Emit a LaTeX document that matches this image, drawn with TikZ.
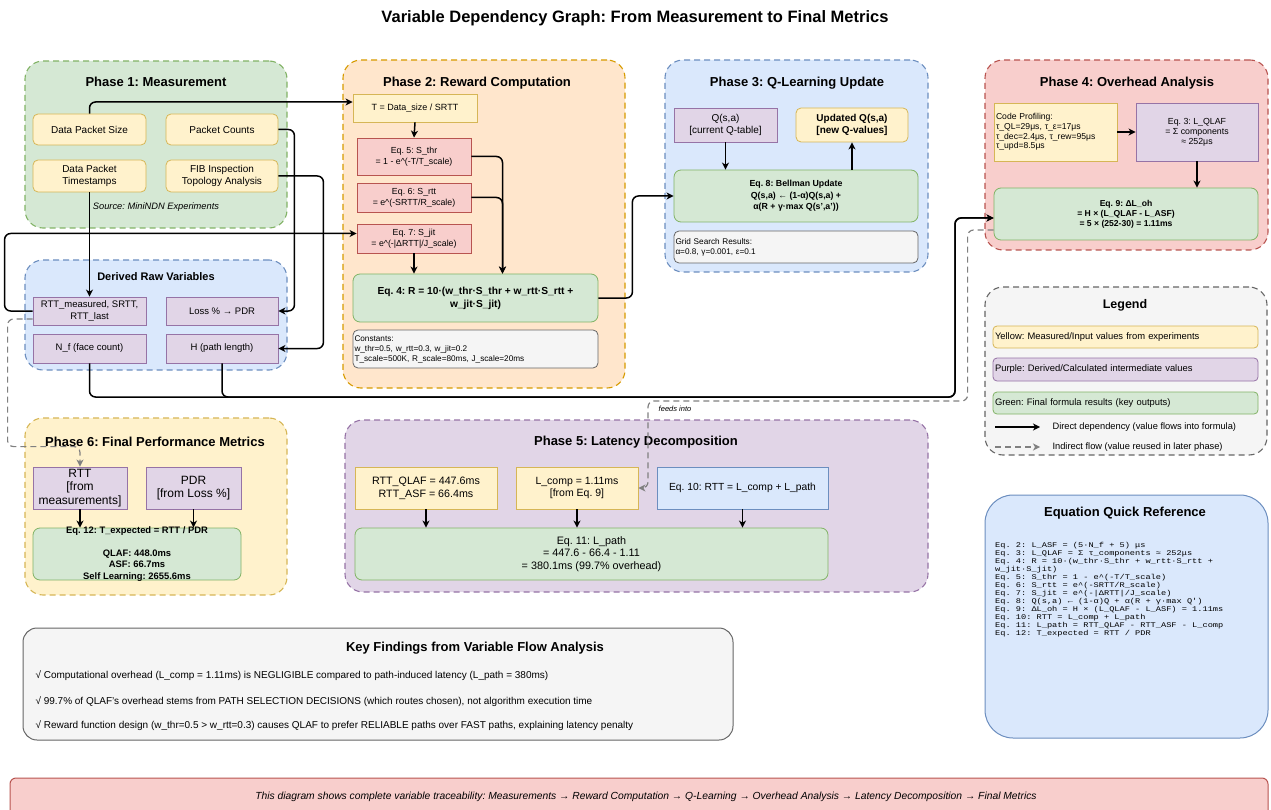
\documentclass[tikz,border=0pt]{standalone}
\usepackage{fontspec}
\setmainfont{Liberation Sans}
\newfontfamily\eqmono[FakeStretch=1.2]{Liberation Mono}
\usepackage{tikz}
\usetikzlibrary{arrows,arrows.meta,shapes,positioning}
\usepackage{xcolor}
\definecolor{lgreen}{RGB}{213,232,212}
\definecolor{dgreen}{RGB}{130,179,102}
\definecolor{lyellow}{RGB}{255,242,204}
\definecolor{dyellow}{RGB}{214,182,86}
\definecolor{lorange}{RGB}{255,230,204}
\definecolor{dorange}{RGB}{215,155,0}
\definecolor{lblue}{RGB}{218,232,252}
\definecolor{dblue}{RGB}{108,142,191}
\definecolor{lred}{RGB}{248,206,204}
\definecolor{dred}{RGB}{184,84,80}
\definecolor{lpurple}{RGB}{225,213,231}
\definecolor{dpurple}{RGB}{150,115,166}
\definecolor{lgrey}{RGB}{245,245,245}
\definecolor{dgrey}{RGB}{102,102,102}
\newcommand{\fsz}[2]{\fontsize{#1}{#2}\selectfont}
\frenchspacing
\tikzstyle{flow} = [line width=1.5pt,-{Stealth[length=7pt,width=7pt,inset=2pt]},rounded corners=6pt,color=black]
\tikzstyle{indirect} = [line width=1.2pt,dash pattern=on 6pt off 4pt,-{Stealth[length=7pt,width=7pt,inset=2pt]},rounded corners=6pt,color=gray]
\tikzstyle{phase} = [draw, dash pattern=on 6pt off 4pt, line width=1.1pt, rounded corners=18pt, inner sep=0pt]

\begin{document}
\begin{tikzpicture}[x=1pt, y=-1pt,
    ptitle/.style={font=\fsz{13}{15}\bfseries},
    meas/.style={draw=dyellow, fill=lyellow, line width=0.8pt, align=center, inner sep=1pt, font=\fsz{10}{12}},
    deriv/.style={draw=dpurple, fill=lpurple, line width=0.8pt, align=center, inner sep=1pt, font=\fsz{9.5}{11.5}},
    formula/.style={draw=dgreen, fill=lgreen, line width=0.8pt, rounded corners=7pt, align=center, inner sep=1pt},
    eqbox/.style={draw=dred, fill=lred, line width=0.8pt, align=center, inner sep=1pt, font=\fsz{8.8}{11}},
    note/.style={draw=dgrey, fill=lgrey, line width=0.8pt, rounded corners=5pt, align=left, inner sep=1.5pt}]
\useasboundingbox (0,0) rectangle (1271,810);

% Title
\node[font=\fsz{16.5}{19}\bfseries] (title) at (635,18) {Variable Dependency Graph: From Measurement to Final Metrics};

% Phase containers
\node[phase, draw=dgreen, fill=lgreen, minimum width=262, minimum height=167] (ph1) at (156,144.5) {};
\node[phase, draw=dblue, fill=lblue, minimum width=262, minimum height=110] (dv) at (156,315) {};
\node[phase, draw=dorange, fill=lorange, minimum width=282, minimum height=328] (ph2) at (484,224) {};
\node[phase, draw=dblue, fill=lblue, minimum width=263, minimum height=212] (ph3) at (796.5,166) {};
\node[phase, draw=dred, fill=lred, minimum width=283, minimum height=190] (ph4) at (1126.5,155) {};
\node[phase, draw=dgrey, fill=lgrey, minimum width=282, minimum height=168] (leg) at (1126,371) {};
\node[phase, draw=dyellow, fill=lyellow, minimum width=262, minimum height=177] (ph6) at (156,506.5) {};
\node[phase, draw=dpurple, fill=lpurple, minimum width=583, minimum height=172] (ph5) at (636.5,506) {};

% Phase 1
\node[ptitle] (t1) at (156,82) {Phase 1: Measurement};
\node[meas, rounded corners=5pt, minimum width=113, minimum height=31] (dps) at (89.5,129.5) {Data Packet Size};
\node[meas, rounded corners=5pt, minimum width=112, minimum height=31] (pc) at (222,129.5) {Packet Counts};
\node[meas, rounded corners=5pt, minimum width=113, minimum height=32] (dpt) at (89.5,176) {Data Packet\\Timestamps};
\node[meas, rounded corners=5pt, minimum width=112, minimum height=32] (fib) at (222,176) {FIB Inspection\\Topology Analysis};
\node[font=\fsz{9.3}{11}\itshape] (src) at (156,207) {Source: MiniNDN Experiments};

% Derived raw variables
\node[font=\fsz{11}{13}\bfseries] (tdv) at (156,277) {Derived Raw Variables};
\node[deriv, minimum width=113, minimum height=28] (rttm) at (89.5,311) {RTT\_measured, SRTT,\\RTT\_last};
\node[deriv, minimum width=112, minimum height=28] (loss) at (222,311) {Loss \% → PDR};
\node[deriv, minimum width=113, minimum height=29] (nf) at (89.5,348.5) {N\_f (face count)};
\node[deriv, minimum width=112, minimum height=29] (h) at (222,348.5) {H (path length)};

% Phase 2
\node[ptitle] (t2) at (477,83) {Phase 2: Reward Computation};
\node[meas, font=\fsz{9}{11}, minimum width=124, minimum height=28] (tbox) at (415,108) {T = Data\_size / SRTT};
\node[eqbox, minimum width=114, minimum height=37] (sthr) at (414,156.5) {Eq. 5: S\_thr\\= 1 - e\textasciicircum(-T/T\_scale)};
\node[eqbox, minimum width=114, minimum height=29] (srtt) at (414,197.5) {Eq. 6: S\_rtt\\= e\textasciicircum(-SRTT/R\_scale)};
\node[eqbox, minimum width=114, minimum height=29] (sjit) at (414,238.5) {Eq. 7: S\_jit\\= e\textasciicircum(-|ΔRTT|/J\_scale)};
\node[formula, font=\fsz{10.2}{13}\bfseries, minimum width=245, minimum height=48] (eq4) at (475.5,298) {Eq. 4: R = 10·(w\_thr·S\_thr + w\_rtt·S\_rtt +\\w\_jit·S\_jit)};
\node[note, font=\fsz{8.2}{10}, text width=242, minimum height=38] (const) at (475.5,349) {Constants:\\w\_thr=0.5, w\_rtt=0.3, w\_jit=0.2\\T\_scale=500K, R\_scale=80ms, J\_scale=20ms};

% Phase 3
\node[ptitle] (t3) at (797,83) {Phase 3: Q-Learning Update};
\node[deriv, font=\fsz{10}{12}, minimum width=103, minimum height=34] (q) at (725.5,125) {Q(s,a)\\{[}current Q-table{]}};
\node[meas, rounded corners=5pt, font=\fsz{10}{12}\bfseries, minimum width=112, minimum height=34] (updq) at (852,125) {Updated Q(s,a)\\{[}new Q-values{]}};
\node[formula, font=\fsz{8.8}{11.5}\bfseries, minimum width=244, minimum height=52] (eq8) at (796,196) {Eq. 8: Bellman Update\\Q(s,a) ← (1-α)Q(s,a) +\\α(R + γ·max Q(s',a'))};
\node[note, font=\fsz{8.2}{10}, text width=241, minimum height=32] (grid) at (796,247) {Grid Search Results:\\α=0.8, γ=0.001, ε=0.1};

% Phase 4
\node[ptitle] (t4) at (1127,83) {Phase 4: Overhead Analysis};
\node[meas, align=left, font=\fsz{8.6}{9.6}, text width=119, minimum height=58, inner sep=2pt] (prof) at (1055.5,132) {Code Profiling:\\τ\_QL=29μs, τ\_ε=17μs\\τ\_dec=2.4μs, τ\_rew=95μs\\τ\_upd=8.5μs};
\node[deriv, font=\fsz{8.8}{10}, minimum width=122, minimum height=58] (eq3) at (1197,132) {Eq. 3: L\_QLAF\\= Σ components\\≈ 252μs};
\node[formula, font=\fsz{8.6}{10.2}\bfseries, minimum width=264, minimum height=52] (eq9) at (1126,214) {Eq. 9: ΔL\_oh\\= H × (L\_QLAF - L\_ASF)\\= 5 × (252-30) = 1.11ms};

% Legend
\node[font=\fsz{12.5}{14}\bfseries] (tl) at (1125,305) {Legend};
\node[meas, rounded corners=4pt, align=left, font=\fsz{9.4}{11}, text width=261, minimum height=22, inner sep=2pt] (ly) at (1125.5,337) {Yellow: Measured/Input values from experiments};
\node[deriv, rounded corners=4pt, align=left, font=\fsz{9.4}{11}, text width=261, minimum height=23, inner sep=2pt] (lp) at (1125.5,369.5) {Purple: Derived/Calculated intermediate values};
\node[formula, rounded corners=4pt, align=left, font=\fsz{9.4}{11}, text width=261, minimum height=22, inner sep=2pt] (lg) at (1125.5,403) {Green: Final formula results (key outputs)};
\coordinate (la1s) at (995,427);
\coordinate (la1e) at (1040,427);
\coordinate (la2s) at (995,447);
\coordinate (la2e) at (1040,447);
\draw[flow] (la1s) -- (la1e);
\draw[indirect] (la2s) -- (la2e);
\node[anchor=west, font=\fsz{9.3}{11}] (ld1) at (1049,427) {Direct dependency (value flows into formula)};
\node[anchor=west, font=\fsz{9.3}{11}] (ld2) at (1049,447) {Indirect flow (value reused in later phase)};

% Equation quick reference
\node[draw=dblue, fill=lblue, line width=1pt, rounded corners=28pt, minimum width=283, minimum height=243] (eqr) at (1126.5,616.5) {};
\node[font=\fsz{13}{15}\bfseries] (teqr) at (1125,513) {Equation Quick Reference};
\node[anchor=north west, align=left, inner sep=0pt, font=\eqmono\fsz{7.2}{8}] (eqlist) at (995,542) {Eq. 2: L\_ASF = (5·N\_f + 5) μs\\
Eq. 3: L\_QLAF = Σ τ\_components ≈ 252μs\\
Eq. 4: R = 10·(w\_thr·S\_thr + w\_rtt·S\_rtt +\\
w\_jit·S\_jit)\\
Eq. 5: S\_thr = 1 - e\textasciicircum(-T/T\_scale)\\
Eq. 6: S\_rtt = e\textasciicircum(-SRTT/R\_scale)\\
Eq. 7: S\_jit = e\textasciicircum(-|ΔRTT|/J\_scale)\\
Eq. 8: Q(s,a) ← (1-α)Q + α(R + γ·max Q')\\
Eq. 9: ΔL\_oh = H × (L\_QLAF - L\_ASF) = 1.11ms\\
Eq. 10: RTT = L\_comp + L\_path\\
Eq. 11: L\_path = RTT\_QLAF - RTT\_ASF - L\_comp\\
Eq. 12: T\_expected = RTT / PDR};

% Phase 6
\node[ptitle] (t6) at (155,442) {Phase 6: Final Performance Metrics};
\node[deriv, font=\fsz{12}{13.3}, minimum width=94, minimum height=42] (rtt) at (80,488) {RTT\\{[}from\\measurements{]}};
\node[deriv, font=\fsz{12}{13.3}, minimum width=95, minimum height=42] (pdr) at (193.5,488) {PDR\\{[}from Loss \%{]}};
\node[formula, minimum width=208, minimum height=52] (eq12) at (137,554) {};
\node[align=center, inner sep=0pt, font=\fsz{9.4}{11.3}\bfseries] (eq12txt) at (137,554) {Eq. 12: T\_expected = RTT / PDR\\\mbox{}\\QLAF: 448.0ms\\ASF: 66.7ms\\Self Learning: 2655.6ms};

% Phase 5
\node[ptitle] (t5) at (636,442) {Phase 5: Latency Decomposition};
\node[meas, font=\fsz{10.7}{12.7}, minimum width=142, minimum height=42] (rttq) at (426,488) {RTT\_QLAF = 447.6ms\\RTT\_ASF = 66.4ms};
\node[meas, font=\fsz{10.5}{12.7}, minimum width=122, minimum height=42] (lcomp) at (577,488) {L\_comp = 1.11ms\\{[}from Eq. 9{]}};
\node[meas, draw=dblue, fill=lblue, font=\fsz{10.3}{12.7}, minimum width=171, minimum height=42] (eq10) at (742.5,488) {Eq. 10: RTT = L\_comp + L\_path};
\node[formula, font=\fsz{10.8}{12.5}, minimum width=473, minimum height=52] (eq11) at (591.5,554) {Eq. 11: L\_path\\= 447.6 - 66.4 - 1.11\\= 380.1ms (99.7\% overhead)};

% Key findings
\node[draw=dgrey, fill=lgrey, line width=1pt, rounded corners=14pt, minimum width=710, minimum height=112] (kf) at (378,684) {};
\node[font=\fsz{13}{15}\bfseries] (tkf) at (475,648) {Key Findings from Variable Flow Analysis};
\node[anchor=west, font=\fsz{10}{12}] (kf1) at (32,676) {√ Computational overhead (L\_comp = 1.11ms) is NEGLIGIBLE compared to path-induced latency (L\_path = 380ms)};
\node[anchor=west, font=\fsz{10}{12}] (kf2) at (32,702) {√ 99.7\% of QLAF's overhead stems from PATH SELECTION DECISIONS (which routes chosen), not algorithm execution time};
\node[anchor=west, font=\fsz{10}{12}] (kf3) at (32,726) {√ Reward function design (w\_thr=0.5 > w\_rtt=0.3) causes QLAF to prefer RELIABLE paths over FAST paths, explaining latency penalty};

% Footer
\node[draw=dred, fill=lred, line width=1pt, rounded corners=6pt, minimum width=1258, minimum height=42] (ft) at (639,799) {};
\node[font=\fsz{10.3}{12}\itshape] (fttxt) at (646,797) {This diagram shows complete variable traceability: Measurements → Reward Computation → Q-Learning → Overhead Analysis → Latency Decomposition → Final Metrics};

% Connections: measurement to derived
\coordinate (hbus) at (955,397);
\draw[flow] (dps.north) |- ([yshift=6pt]tbox.west);
\draw[flow] (pc.east) -- ++(16,0) |- (loss.east);
\draw[flow] (fib.east) -- ++(45,0) |- (h.east);
\draw[flow] (dpt.south) -- (rttm.north);
\draw[flow] (rttm.west) -- ++(-28,0) |- ([yshift=5pt]sjit.west);
\draw[flow] (nf.south) |- (hbus) |- ([yshift=-4pt]eq9.west);
\draw[flow] (h.south) |- (hbus) |- ([yshift=-4pt]eq9.west);

% Connections: reward computation
\draw[flow] (tbox.south) -- (sthr.north);
\draw[flow] (sthr.east) -| ([xshift=27pt]eq4.north);
\draw[flow] (srtt.east) -| ([xshift=27pt]eq4.north);
\draw[flow] (sjit.south) -- (sjit.south |- eq4.north);
\draw[flow] (eq4.east) -- ++(34,0) |- (eq8.west);

% Connections: Q-learning and overhead
\draw[flow] (q.south) -- (q.south |- eq8.north);
\draw[flow] (updq.south |- eq8.north) -- (updq.south);
\draw[flow] (prof.east) -- (eq3.west);
\draw[flow] (eq3.south) -- (eq3.south |- eq9.north);

% Connections: final phases
\draw[flow] (rtt.south) -- (rtt.south |- eq12.north);
\draw[flow] (pdr.south) -- (pdr.south |- eq12.north);
\draw[flow] (rttq.south) -- (rttq.south |- eq11.north);
\draw[flow] (lcomp.south) -- (lcomp.south |- eq11.north);
\draw[flow] (eq10.south) -- (eq10.south |- eq11.north);

% Indirect flows
\draw[indirect] ([yshift=-8pt]rttm.west) -- ++(-25,0) |- ([yshift=20pt]rtt.north) -- (rtt.north);
\draw[indirect] ([yshift=-16pt]eq9.west) -- ++(-26,0) |- (648,401) |- (lcomp.east);
\node[font=\fsz{7.5}{9}\itshape] (feeds) at (675,409) {feeds into};
\end{tikzpicture}
\end{document}
